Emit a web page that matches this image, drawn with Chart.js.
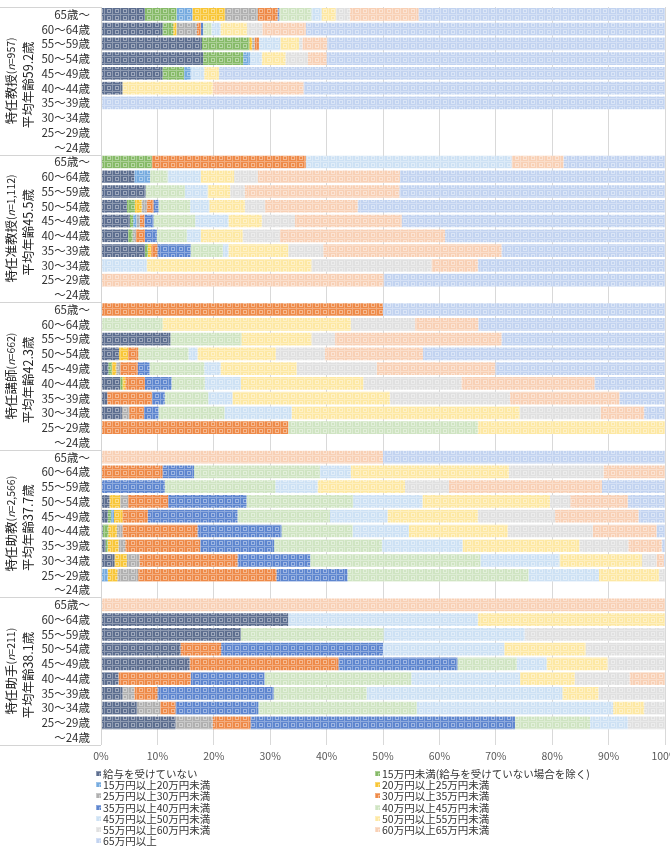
<!DOCTYPE html>
<html>
<head>
<meta charset="utf-8">
<script src="https://cdn.jsdelivr.net/npm/chart.js@4.4.0/dist/chart.umd.min.js"></script>
<style>
body { margin: 0; background: #fff; font-family: "Noto Sans CJK JP", sans-serif; }
#wrap { position: relative; width: 670px; height: 860px; overflow: hidden; }
#chart { position: absolute; left: 0; top: 0; }
#legend { position: absolute; left: 96px; top: 768px; display: grid; grid-template-columns: 279px 290px;
  font-size: 10.5px; line-height: 11.2px; color: #333; }
.item { white-space: nowrap; }
.sw { display: inline-block; width: 5px; height: 5px; margin-right: 2px; vertical-align: 2px; }
</style>
</head>
<body>
<div id="wrap">
  <canvas id="chart" width="670" height="768"></canvas>
  <div id="legend"></div>
</div>
<script>
// age rows inside every group
const ages = ['65歳～', '60～64歳', '55～59歳', '50～54歳', '45～49歳', '40～44歳', '35～39歳', '30～34歳', '25～29歳', '～24歳'];

const groupNames = ['特任教授', '特任准教授', '特任講師', '特任助教', '特任助手'];
const groupCounts = ['957', '1,112', '662', '2,566', '211'];
const groupAges = ['平均年齢59.2歳', '平均年齢45.5歳', '平均年齢42.3歳', '平均年齢37.7歳', '平均年齢38.1歳'];

const salaryLabels = [
    '給与を受けていない', '15万円未満(給与を受けていない場合を除く)',
    '15万円以上20万円未満', '20万円以上25万円未満',
    '25万円以上30万円未満', '30万円以上35万円未満',
    '35万円以上40万円未満', '40万円以上45万円未満',
    '45万円以上50万円未満', '50万円以上55万円未満',
    '55万円以上60万円未満', '60万円以上65万円未満',
    '65万円以上'
];
const salaryColors = [
    '#5d6e8f', '#86ba68', '#76abdf', '#f8c637', '#b0b0b0', '#ee8a48', '#5e86cf',
    '#cfe4c2', '#cde1f4', '#fde8a3', '#e0e0e0', '#f8d0b5', '#c2d3f0'
];

// percent per salary band (13 values) for each age row, 65歳～ first
const professor = [
    [7.8, 5.6, 2.8, 5.8, 5.8, 3.5, 0.3, 5.7, 1.8, 2.5, 2.5, 12.2, 43.7],
    [10.9, 1.9, 0, 0.6, 3.6, 0.7, 0.4, 1.5, 1.6, 4.7, 2.7, 7.7, 63.7],
    [17.9, 8.4, 0, 0.5, 0.4, 0.8, 0, 0, 3.8, 3.3, 0.6, 4.4, 59.9],
    [18.1, 7.1, 1.2, 0, 0, 0, 0, 0, 2.1, 4.2, 4.0, 3.3, 60.0],
    [10.9, 3.8, 1.2, 0, 0, 0, 0, 0, 2.4, 2.6, 0, 0, 79.1],
    [3.8, 0, 0, 0, 0, 0, 0, 0, 0, 16.0, 0, 16.1, 64.1],
    [0, 0, 0, 0, 0, 0, 0, 0, 0, 0, 0, 0, 100],
    [0, 0, 0, 0, 0, 0, 0, 0, 0, 0, 0, 0, 0],
    [0, 0, 0, 0, 0, 0, 0, 0, 0, 0, 0, 0, 0],
    [0, 0, 0, 0, 0, 0, 0, 0, 0, 0, 0, 0, 0]
];
const assocProfessor = [
    [0, 9.0, 0, 0, 0, 27.3, 0, 0, 36.5, 0, 0, 9.2, 18.0],
    [5.9, 0, 2.8, 0, 0, 0, 0, 3.1, 5.9, 5.9, 4.2, 25.2, 47.0],
    [7.9, 0, 0, 0, 0, 0, 0, 7.0, 4.0, 4.0, 2.6, 27.4, 47.1],
    [4.6, 1.4, 0, 1.2, 0.9, 1.2, 0.9, 5.6, 3.4, 6.3, 3.6, 16.4, 54.5],
    [5.1, 0.6, 0.6, 0, 0.6, 0.8, 1.6, 7.4, 5.9, 5.9, 5.9, 18.9, 46.7],
    [4.8, 0.8, 0, 0, 0.6, 1.6, 2.1, 5.3, 2.5, 7.4, 6.6, 29.3, 39.0],
    [7.8, 0.5, 0, 0.6, 0, 1.1, 5.9, 5.7, 1.0, 10.6, 6.2, 31.6, 29.0],
    [0, 0, 0, 0, 0, 0, 0, 0, 8.1, 29.2, 21.3, 8.2, 33.2],
    [0, 0, 0, 0, 0, 0, 0, 0, 0, 0, 0, 50.1, 49.9],
    [0, 0, 0, 0, 0, 0, 0, 0, 0, 0, 0, 0, 0]
];
const lecturer = [
    [0, 0, 0, 0, 0, 50.0, 0, 0, 0, 0, 0, 0, 50.0],
    [0, 0, 0, 0, 0, 0, 0, 10.9, 0, 33.4, 11.4, 11.2, 33.1],
    [12.3, 0, 0, 0, 0, 0, 0, 12.6, 0, 12.4, 4.2, 29.5, 29.0],
    [3.2, 0, 0, 1.6, 0, 1.8, 0, 8.9, 1.6, 13.9, 8.7, 17.4, 42.9],
    [1.3, 0.6, 0, 0.8, 0.7, 3.1, 2.1, 9.7, 2.9, 13.5, 14.2, 21.0, 30.1],
    [3.4, 0.4, 0, 0.5, 0, 3.5, 4.7, 5.9, 6.4, 21.7, 17.4, 23.6, 12.5],
    [1.1, 0, 0, 0, 0, 7.9, 2.3, 7.7, 4.3, 27.9, 21.3, 19.4, 8.1],
    [3.7, 0, 0, 0, 1.3, 2.6, 2.6, 11.7, 11.9, 40.4, 14.4, 7.7, 3.7],
    [0, 0, 0, 0, 0, 33.2, 0, 33.6, 0, 33.2, 0, 0, 0],
    [0, 0, 0, 0, 0, 0, 0, 0, 0, 0, 0, 0, 0]
];
const assistProfessor = [
    [0, 0, 0, 0, 0, 0, 0, 0, 0, 0, 0, 50.0, 50.0],
    [0, 0, 0, 0, 0, 10.9, 5.6, 22.3, 5.5, 28.0, 16.8, 10.9, 0],
    [0, 0, 0, 0, 0, 0, 11.3, 19.6, 7.5, 15.5, 7.8, 27.1, 11.2],
    [1.5, 0, 0, 1.9, 1.4, 7.1, 13.9, 18.9, 12.3, 22.6, 3.6, 10.2, 6.6],
    [1.2, 0.6, 0.5, 1.5, 0, 4.5, 15.9, 16.4, 10.2, 16.0, 13.7, 14.8, 4.7],
    [0.3, 1.0, 0, 1.5, 1.0, 13.3, 14.9, 12.6, 10.0, 17.5, 15.1, 11.3, 1.5],
    [0.8, 0.4, 0, 1.9, 1.2, 13.3, 13.1, 19.1, 14.3, 20.7, 8.7, 5.9, 0.6],
    [2.4, 0, 0, 2.2, 2.2, 17.4, 12.9, 30.2, 14.0, 14.6, 2.6, 1.3, 0.2],
    [0, 0, 1.2, 1.7, 3.7, 24.5, 12.6, 32.1, 12.5, 10.6, 1.1, 0, 0],
    [0, 0, 0, 0, 0, 0, 0, 0, 0, 0, 0, 0, 0]
];
const assistant = [
    [0, 0, 0, 0, 0, 0, 0, 0, 0, 0, 0, 100, 0],
    [33.2, 0, 0, 0, 0, 0, 0, 0, 33.6, 33.2, 0, 0, 0],
    [24.8, 0, 0, 0, 0, 0, 0, 25.3, 25.0, 0, 24.9, 0, 0],
    [14.1, 0, 0, 0, 0, 7.2, 28.7, 0, 21.5, 14.4, 14.1, 0, 0],
    [15.7, 0, 0, 0, 0, 26.4, 21.1, 10.5, 5.3, 10.8, 10.2, 0, 0],
    [3.1, 0, 0, 0, 0, 12.8, 13.1, 26.0, 19.3, 9.7, 9.7, 6.3, 0],
    [3.8, 0, 0, 0, 2.1, 4.1, 20.6, 16.5, 34.7, 6.4, 11.8, 0, 0],
    [6.4, 0, 0, 0, 4.1, 2.7, 14.7, 28.1, 34.8, 5.5, 3.7, 0, 0],
    [13.2, 0, 0, 0, 6.6, 6.7, 46.9, 13.3, 6.7, 0, 6.6, 0, 0],
    [0, 0, 0, 0, 0, 0, 0, 0, 0, 0, 0, 0, 0]
];

const groups = [professor, assocProfessor, lecturer, assistProfessor, assistant];
const allRows = groups.flat();
const rowLabels = groups.map(() => ages).flat();

// Excel style "small grid" fill
function lighten(hex, t) {
    const n = parseInt(hex.slice(1), 16);
    const r = n >> 16, g = (n >> 8) & 255, b = n & 255;
    const f = c => Math.round(c + (255 - c) * t);
    return `rgb(${f(r)},${f(g)},${f(b)})`;
}
function makePattern(color) {
    const c = document.createElement('canvas');
    c.width = 8; c.height = 7;
    const p = c.getContext('2d');
    p.fillStyle = color;
    p.fillRect(0, 0, 8, 7);
    p.fillStyle = lighten(color, 0.3);
    p.fillRect(0, 0, 8, 1);
    p.fillRect(0, 0, 1, 7);
    p.strokeStyle = lighten(color, 0.4);
    p.lineWidth = 1;
    p.strokeRect(3.5, 2.5, 3, 3);
    return c;
}
const tiles = salaryColors.map(makePattern);
const ctx = document.getElementById('chart').getContext('2d');
const patterns = tiles.map(t => ctx.createPattern(t, 'repeat'));

const datasets = salaryLabels.map((label, i) => ({
    label: label,
    data: allRows.map(r => r[i]),
    backgroundColor: patterns[i],
    borderWidth: 0,
    barPercentage: 0.86,
    categoryPercentage: 1.0
}));

const groupPlugin = {
    id: 'groupLabels',
    afterDraw(chart) {
        const c = chart.ctx;
        const area = chart.chartArea;
        const rowH = (area.bottom - area.top) / allRows.length;
        c.save();
        c.strokeStyle = '#d4d4d4';
        c.lineWidth = 1;
        c.beginPath();
        for (let g = 0; g <= groups.length; g++) {
            const yy = Math.round(area.top + g * ages.length * rowH) + 0.5;
            c.moveTo(0, yy);
            c.lineTo(area.left, yy);
        }
        c.moveTo(Math.round(area.left) + 0.5, area.top);
        c.lineTo(Math.round(area.left) + 0.5, area.bottom);
        c.stroke();

        c.fillStyle = '#222';
        c.textBaseline = 'middle';
        groups.forEach((rows, g) => {
            const cy = area.top + (g * ages.length + ages.length / 2) * rowH;
            // first line: name + (n=...)
            const bigFont = '12.5px "Noto Sans CJK JP"';
            const smallFont = '10.5px "Noto Sans CJK JP"';
            const italFont = 'italic 10.5px "Noto Sans CJK JP"';
            const parts = [
                [groupNames[g], bigFont], ['(', smallFont], ['n', italFont],
                ['=' + groupCounts[g] + ')', smallFont]
            ];
            let total = 0;
            parts.forEach(p => { c.font = p[1]; total += c.measureText(p[0]).width; });
            c.save();
            c.translate(11, cy);
            c.rotate(-Math.PI / 2);
            c.textAlign = 'left';
            let x = -total / 2;
            parts.forEach(p => { c.font = p[1]; c.fillText(p[0], x, 0); x += c.measureText(p[0]).width; });
            c.restore();

            c.save();
            c.translate(28, cy + 4);
            c.rotate(-Math.PI / 2);
            c.textAlign = 'center';
            c.font = bigFont;
            c.fillText(groupAges[g], 0, 0);
            c.restore();
        });
        c.restore();
    }
};

new Chart(ctx, {
    type: 'bar',
    data: { labels: rowLabels, datasets: datasets },
    options: {
        indexAxis: 'y',
        responsive: false,
        animation: false,
        layout: { padding: { top: 7, right: 5, left: 0, bottom: 0 } },
        scales: {
            x: {
                stacked: true,
                min: 0,
                max: 100,
                ticks: {
                    stepSize: 10,
                    callback: v => v + '%',
                    color: '#595959',
                    font: { family: '"Noto Sans CJK JP"', size: 10.5 },
                    padding: 5,
                    maxRotation: 0
                },
                grid: { color: '#d9d9d9', drawTicks: false },
                border: { display: false },
                afterFit(scale) {
                    scale.height = 23;
                    scale.paddingLeft = 0;
                    scale.paddingRight = 0;
                }
            },
            y: {
                stacked: true,
                ticks: {
                    color: '#333',
                    font: { family: '"Noto Sans CJK JP"', size: 11.5 },
                    padding: 11,
                    autoSkip: false
                },
                grid: { display: false, drawTicks: false },
                border: { display: false },
                afterFit(scale) {
                    scale.width = 101;
                    scale.paddingTop = 0;
                    scale.paddingBottom = 0;
                }
            }
        },
        plugins: {
            legend: { display: false },
            tooltip: { enabled: false }
        }
    },
    plugins: [groupPlugin]
});

// legend below the plot, two columns like the original
const legendBox = document.getElementById('legend');
salaryLabels.forEach((label, i) => {
    const item = document.createElement('div');
    item.className = 'item';
    item.innerHTML = `<span class="sw" style="background:url(${tiles[i].toDataURL()})"></span>${label}`;
    legendBox.appendChild(item);
});
</script>
</body>
</html>
